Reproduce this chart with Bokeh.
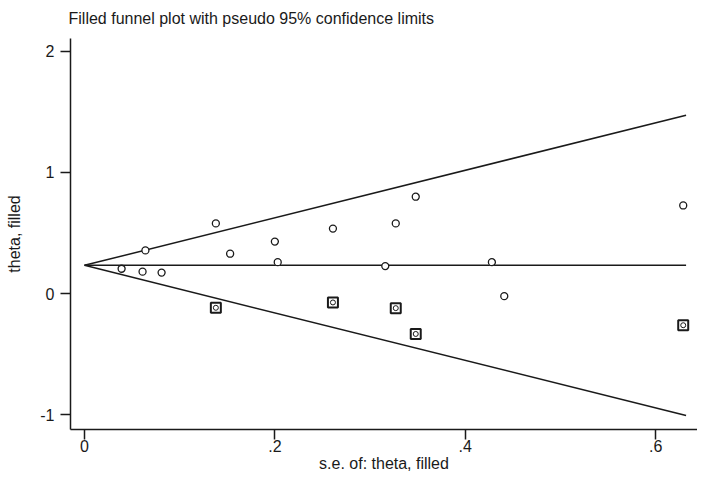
from bokeh.plotting import figure
from bokeh.models import FixedTicker, Range1d
from bokeh.embed import file_html
from bokeh.resources import INLINE

# Observed studies
obs_se = [0.039, 0.061, 0.064, 0.081, 0.138, 0.153, 0.200, 0.203, 0.261, 0.316, 0.327, 0.348, 0.428, 0.441, 0.629]
obs_theta = [0.206, 0.182, 0.357, 0.174, 0.580, 0.330, 0.430, 0.260, 0.537, 0.228, 0.580, 0.800, 0.260, -0.020, 0.728]

# Filled (imputed) studies
fill_se = [0.138, 0.261, 0.327, 0.348, 0.629]
fill_theta = [-0.116, -0.072, -0.119, -0.332, -0.260]

pooled_theta = 0.234
max_se = 0.632

x_ticks = [0, 0.2, 0.4, 0.6]
x_tick_labels = ["0", ".2", ".4", ".6"]
y_ticks = [-1, 0, 1, 2]
y_tick_labels = ["-1", "0", "1", "2"]

title_text = "Filled funnel plot with pseudo 95% confidence limits"
x_title = "s.e. of: theta, filled"
y_title = "theta, filled"

FONT = "Liberation Sans"
INK = "#1a1a1a"

p = figure(width=697, height=474, output_backend="svg", toolbar_location=None,
           x_range=Range1d(-0.0147, 0.644), y_range=Range1d(-1.12, 2.105),
           title=title_text,
           min_border_left=70, min_border_right=0, min_border_top=37, min_border_bottom=44)

p.title.text_font = FONT
p.title.text_font_size = "16px"
p.title.text_font_style = "normal"
p.title.text_color = INK
p.title.align = "left"
p.title.vertical_align = "top"
p.title.offset = -2
p.title.standoff = 19

p.outline_line_color = None
p.grid.visible = False
p.background_fill_color = "white"
p.border_fill_color = "white"

for ax in (p.xaxis[0], p.yaxis[0]):
    ax.axis_line_color = INK
    ax.axis_line_width = 1.5
    ax.major_tick_line_color = INK
    ax.major_tick_line_width = 1.5
    ax.major_tick_out = 10
    ax.major_tick_in = 0
    ax.minor_tick_line_color = None
    ax.major_label_text_font = FONT
    ax.major_label_text_font_size = "16px"
    ax.major_label_text_color = INK
    ax.axis_label_text_font = FONT
    ax.axis_label_text_font_size = "16px"
    ax.axis_label_text_font_style = "normal"
    ax.axis_label_text_color = INK

p.xaxis.ticker = FixedTicker(ticks=x_ticks)
p.xaxis.major_label_overrides = dict(zip(x_ticks, x_tick_labels))
p.xaxis.axis_label = x_title
p.xaxis.major_label_standoff = 0
p.xaxis.axis_label_standoff = 0

p.yaxis.ticker = FixedTicker(ticks=y_ticks)
p.yaxis.major_label_overrides = dict(zip(y_ticks, y_tick_labels))
p.yaxis.axis_label = y_title
p.yaxis.major_label_standoff = 6
p.yaxis.major_label_orientation = "horizontal"
p.yaxis.axis_label_standoff = 14

# Funnel lines (pseudo 95% limits)
p.line([0, max_se], [pooled_theta, pooled_theta + 1.96 * max_se], line_color=INK, line_width=1.5)
p.line([0, max_se], [pooled_theta, pooled_theta - 1.96 * max_se], line_color=INK, line_width=1.5)
p.line([0, max_se], [pooled_theta, pooled_theta], line_color=INK, line_width=1.5)

# Observed studies: hollow circles
p.scatter(obs_se, obs_theta, marker="circle", size=7, fill_color="white",
          line_color=INK, line_width=1.3)

# Filled studies: square with circle inside
p.scatter(fill_se, fill_theta, marker="square", size=10, fill_color="white",
          line_color=INK, line_width=2)
p.scatter(fill_se, fill_theta, marker="circle", size=5, fill_color="white",
          line_color=INK, line_width=1)

open("out.html", "w").write(file_html(p, INLINE))
